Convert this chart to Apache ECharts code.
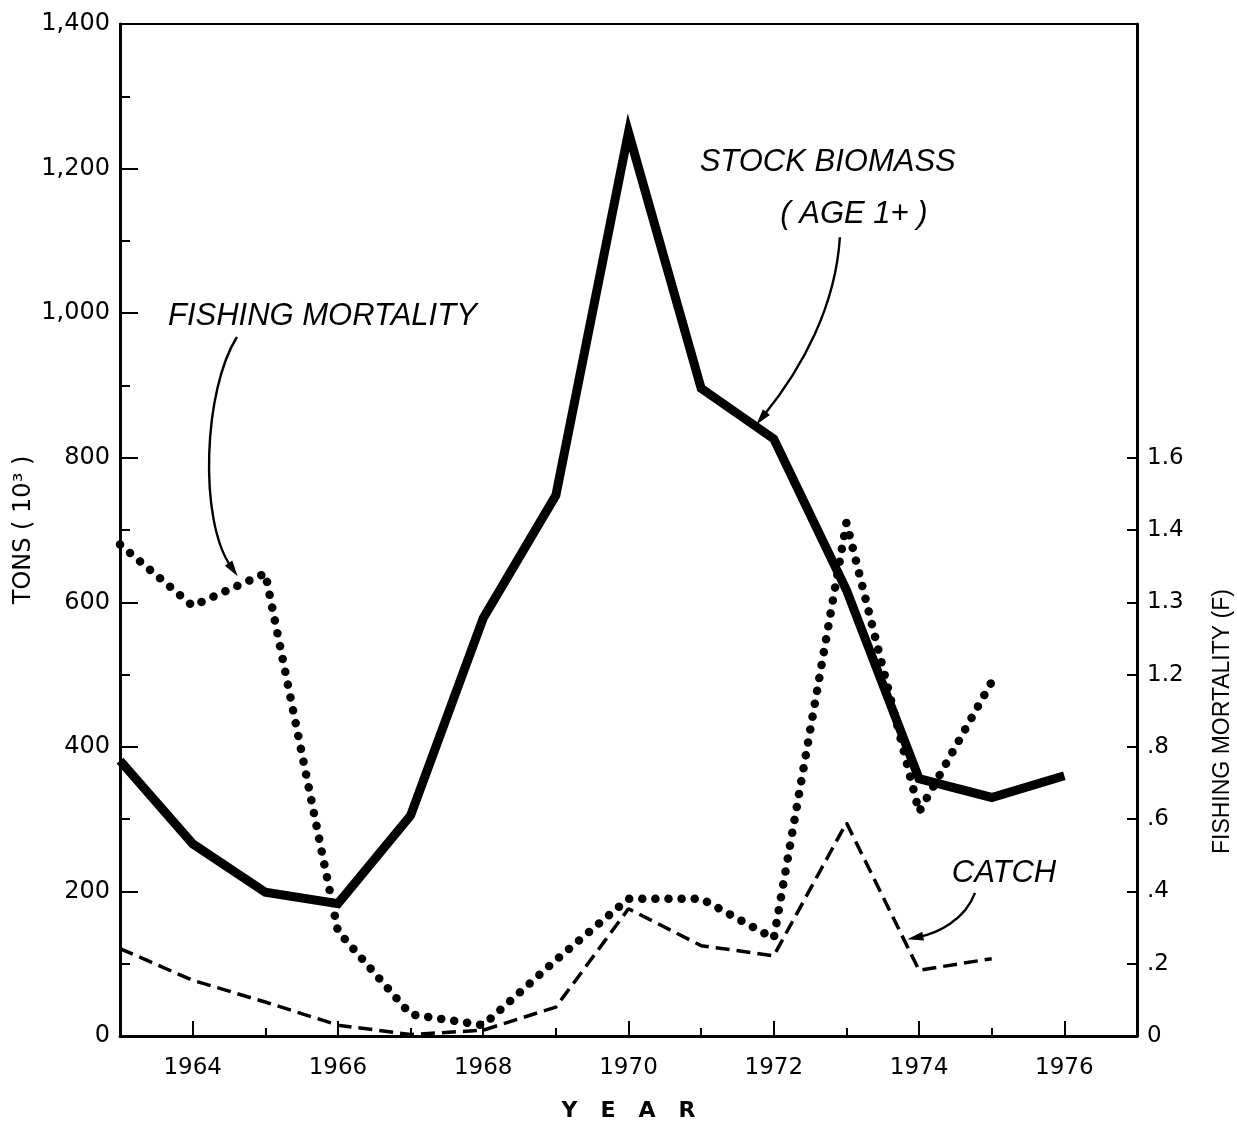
<!DOCTYPE html>
<html>
<head>
<meta charset="utf-8">
<script src="https://cdn.jsdelivr.net/npm/echarts@6/dist/echarts.min.js"></script>
<style>html,body{margin:0;padding:0;background:#fff}#c{width:1237px;height:1127px}</style>
</head>
<body>
<div id="c"></div>
<script>
// ---- data ----
const years = [1963, 1964, 1965, 1966, 1967, 1968, 1969, 1970, 1971, 1972, 1973, 1974, 1975, 1976];
const stockBiomass = [381, 266, 199, 183, 305, 578, 748, 1250, 896, 826, 617, 356, 330, 360];          // tons (10^3)
const catchYears = [1963, 1964, 1965, 1966, 1967, 1968, 1969, 1970, 1971, 1972, 1973, 1974, 1975];
const catchTons = [121, 77, 47, 15, 2, 8, 40, 176, 125, 111, 295, 91, 107];                             // tons (10^3)
const fishingYears = [1963, 1964, 1965, 1966, 1967, 1968, 1969, 1970, 1971, 1972, 1973, 1974, 1975];
const fishingMortality = [1.36, 1.19, 1.28, 0.29, 0.06, 0.03, 0.21, 0.38, 0.38, 0.27, 1.42, 0.62, 0.98]; // position on right (F) scale

// tick labels
const yearTickLabels = ['1964', '1966', '1968', '1970', '1972', '1974', '1976'];
const tonsTickLabels = ['0', '200', '400', '600', '800', '1,000', '1,200', '1,400'];
const fTickLabels = ['0', '.2', '.4', '.6', '.8', '1.2', '1.3', '1.4', '1.6'];

const chart = echarts.init(document.getElementById('c'), null, { renderer: 'canvas' });
const NUMFONT = '"DejaVu Sans", sans-serif';
const ANNFONT = '"Liberation Sans", Arial, sans-serif';

const yearTickValues = yearTickLabels.map(Number);
const fTickValues = fTickLabels.map((_, i) => +(i * 0.2).toFixed(1));

const option = {
  animation: false,
  backgroundColor: '#fff',
  grid: { left: 120, right: 100, top: 24, bottom: 91, show: true, borderColor: '#000', borderWidth: 2, backgroundColor: 'transparent' },
  xAxis: [
    {
      type: 'value', min: 1963, max: 1977, interval: 1, position: 'bottom',
      axisLine: { show: true, lineStyle: { color: '#000', width: 3 } },
      axisTick: { show: true, inside: true, length: 15, customValues: yearTickValues, lineStyle: { color: '#000', width: 2 } },
      axisLabel: {
        customValues: yearTickValues, margin: 21, color: '#000', fontFamily: NUMFONT, fontSize: 23,
        formatter: v => yearTickLabels[yearTickValues.indexOf(Math.round(v))] || ''
      },
      splitLine: { show: false },
      name: 'Y   E   A   R', nameLocation: 'middle', nameGap: 64,
      nameTextStyle: { color: '#000', fontFamily: NUMFONT, fontSize: 22, fontWeight: 'bold' }
    },
    {
      type: 'value', min: 1963, max: 1977, interval: 1, position: 'bottom', offset: 0,
      axisLine: { show: false },
      axisTick: { show: true, inside: true, length: 8, lineStyle: { color: '#000', width: 2 } },
      axisLabel: { show: false },
      splitLine: { show: false }
    }
  ],
  yAxis: [
    {
      type: 'value', min: 0, max: 1400, interval: 200, position: 'left',
      axisLine: { show: true, lineStyle: { color: '#000', width: 3 } },
      axisTick: { show: true, inside: true, length: 18, lineStyle: { color: '#000', width: 2 } },
      minorTick: { show: true, splitNumber: 2, length: 10, lineStyle: { color: '#000', width: 2 } },
      axisLabel: {
        margin: 10, color: '#000', fontFamily: NUMFONT, fontSize: 24,
        formatter: v => tonsTickLabels[Math.round(v / 200)]
      },
      splitLine: { show: false },
      name: 'TONS ( 10³ )', nameLocation: 'middle', nameGap: 84, nameMoveOverlap: false,
      nameTextStyle: { color: '#000', fontFamily: NUMFONT, fontSize: 24 }
    },
    {
      type: 'value', min: 0, max: 2.8, interval: 0.2, position: 'right',
      axisLine: { show: true, lineStyle: { color: '#000', width: 3 } },
      axisTick: { show: true, inside: true, length: 10, customValues: fTickValues, lineStyle: { color: '#000', width: 2 } },
      axisLabel: {
        customValues: fTickValues, margin: 10, color: '#000', fontFamily: NUMFONT, fontSize: 23,
        formatter: v => fTickLabels[Math.round(v / 0.2)]
      },
      splitLine: { show: false }
    }
  ],
  series: [
    {
      name: 'Stock biomass (age 1+)', type: 'line', xAxisIndex: 0, yAxisIndex: 0,
      data: years.map((y, i) => [y, stockBiomass[i]]),
      symbol: 'none', z: 3,
      lineStyle: { color: '#000', width: 9, join: 'miter', cap: 'butt' }
    },
    {
      name: 'Catch', type: 'line', xAxisIndex: 0, yAxisIndex: 0,
      data: catchYears.map((y, i) => [y, catchTons[i]]),
      symbol: 'none', z: 2,
      lineStyle: { color: '#000', width: 3.5, type: [14, 7] }
    },
    {
      name: 'Fishing mortality', type: 'line', xAxisIndex: 0, yAxisIndex: 1,
      data: fishingYears.map((y, i) => [y, fishingMortality[i]]),
      symbol: 'none', z: 4,
      lineStyle: { color: '#000', width: 8.5, type: [0.1, 13], cap: 'round', join: 'round' }
    }
  ]
};
chart.setOption(option);

// ---- annotations, anchored in data coordinates ----
function P(x, y) { return chart.convertToPixel({ xAxisIndex: 0, yAxisIndex: 0 }, [x, y]); }
function PF(x, f) { return chart.convertToPixel({ xAxisIndex: 0, yAxisIndex: 1 }, [x, f]); }

function annText(x, y, text) {
  const p = P(x, y);
  return { type: 'text', x: p[0], y: p[1], z: 10,
    style: { text: text, font: 'italic 31px ' + ANNFONT, fill: '#000', align: 'left', verticalAlign: 'middle' } };
}
function arrow(a, c1, c2, b) {
  const s = P(a[0], a[1]), k1 = P(c1[0], c1[1]), k2 = P(c2[0], c2[1]), e = P(b[0], b[1]);
  const dx = e[0] - k2[0], dy = e[1] - k2[1], L = Math.hypot(dx, dy) || 1;
  const ux = dx / L, uy = dy / L, len = 16, hw = 4.5;
  const bx = e[0] - ux * len, by = e[1] - uy * len;
  return [
    { type: 'bezierCurve', z: 10, shape: { x1: s[0], y1: s[1], cpx1: k1[0], cpy1: k1[1], cpx2: k2[0], cpy2: k2[1], x2: bx + ux * 4, y2: by + uy * 4 },
      style: { stroke: '#000', lineWidth: 2.4, fill: null } },
    { type: 'polygon', z: 10, shape: { points: [[e[0], e[1]], [bx - uy * hw, by + ux * hw], [bx + uy * hw, by - ux * hw]] },
      style: { fill: '#000' } }
  ];
}

const rightNamePos = PF(1977, 0.87);
const graphics = [
  annText(1963.66, 996, 'FISHING MORTALITY'),
  annText(1970.98, 1209, 'STOCK BIOMASS'),
  annText(1972.09, 1136, '( AGE 1+ )'),
  annText(1974.45, 225, 'CATCH'),
  ...arrow([1964.61, 967], [1964.15, 894], [1964.08, 714], [1964.62, 636]),
  ...arrow([1972.91, 1105], [1972.85, 1010], [1972.40, 925], [1971.76, 846]),
  ...arrow([1974.77, 198], [1974.63, 160], [1974.25, 142], [1973.84, 134]),
  { type: 'text', x: rightNamePos[0] + 86, y: rightNamePos[1], rotation: Math.PI / 2, z: 10,
    style: { text: 'FISHING MORTALITY (F)', font: '23px ' + ANNFONT, fill: '#000', align: 'center', verticalAlign: 'middle' } }
];
chart.setOption({ graphic: graphics });
</script>
</body>
</html>
